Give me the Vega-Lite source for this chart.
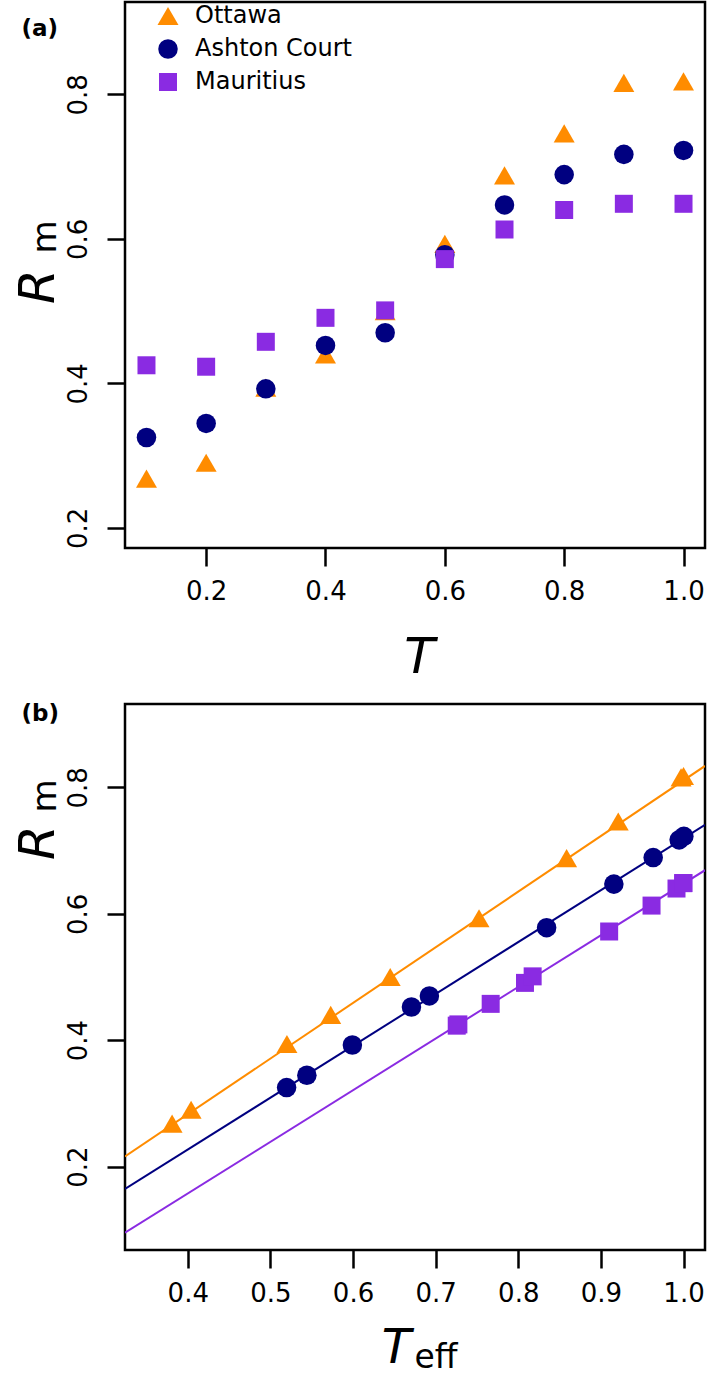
{
  "$schema": "https://vega.github.io/schema/vega-lite/v6.json",
  "background": "white",
  "padding": {"left": 11, "top": 0, "right": 3, "bottom": 3},
  "bounds": "flush",
  "spacing": 156,
  "config": {
    "font": "DejaVu Sans",
    "view": {"stroke": "black", "strokeWidth": 2.5},
    "axis": {
      "domain": false, "grid": false,
      "tickColor": "black", "tickWidth": 2.5, "tickSize": 18,
      "labelColor": "black", "labelFont": "DejaVu Sans", "labelFontSize": 26,
      "titleColor": "black", "titleFont": "DejaVu Sans", "titleFontWeight": "normal"
    }
  },
  "datasets": {
    "pts": [
      {"site": "Ottawa", "T": 0.1, "Rm": 0.268, "Teff": 0.381},
      {"site": "Ottawa", "T": 0.2, "Rm": 0.290, "Teff": 0.404},
      {"site": "Ottawa", "T": 0.3, "Rm": 0.394, "Teff": 0.520},
      {"site": "Ottawa", "T": 0.4, "Rm": 0.440, "Teff": 0.573},
      {"site": "Ottawa", "T": 0.5, "Rm": 0.500, "Teff": 0.645},
      {"site": "Ottawa", "T": 0.6, "Rm": 0.593, "Teff": 0.7525},
      {"site": "Ottawa", "T": 0.7, "Rm": 0.688, "Teff": 0.8585},
      {"site": "Ottawa", "T": 0.8, "Rm": 0.746, "Teff": 0.921},
      {"site": "Ottawa", "T": 0.9, "Rm": 0.816, "Teff": 0.997},
      {"site": "Ottawa", "T": 1.0, "Rm": 0.818, "Teff": 1.0},
      {"site": "Ashton Court", "T": 0.1, "Rm": 0.325, "Teff": 0.5196},
      {"site": "Ashton Court", "T": 0.2, "Rm": 0.3445, "Teff": 0.5441},
      {"site": "Ashton Court", "T": 0.3, "Rm": 0.3924, "Teff": 0.5992},
      {"site": "Ashton Court", "T": 0.4, "Rm": 0.4525, "Teff": 0.6707},
      {"site": "Ashton Court", "T": 0.5, "Rm": 0.470, "Teff": 0.6924},
      {"site": "Ashton Court", "T": 0.6, "Rm": 0.578, "Teff": 0.8343},
      {"site": "Ashton Court", "T": 0.7, "Rm": 0.647, "Teff": 0.9157},
      {"site": "Ashton Court", "T": 0.8, "Rm": 0.689, "Teff": 0.9633},
      {"site": "Ashton Court", "T": 0.9, "Rm": 0.717, "Teff": 0.9947},
      {"site": "Ashton Court", "T": 1.0, "Rm": 0.7225, "Teff": 1.0004},
      {"site": "Mauritius", "T": 0.1, "Rm": 0.425, "Teff": 0.7275},
      {"site": "Mauritius", "T": 0.2, "Rm": 0.423, "Teff": 0.7255},
      {"site": "Mauritius", "T": 0.3, "Rm": 0.4575, "Teff": 0.7666},
      {"site": "Mauritius", "T": 0.4, "Rm": 0.4907, "Teff": 0.8081},
      {"site": "Mauritius", "T": 0.5, "Rm": 0.501, "Teff": 0.8174},
      {"site": "Mauritius", "T": 0.6, "Rm": 0.572, "Teff": 0.910},
      {"site": "Mauritius", "T": 0.7, "Rm": 0.613, "Teff": 0.9613},
      {"site": "Mauritius", "T": 0.8, "Rm": 0.640, "Teff": 0.9915},
      {"site": "Mauritius", "T": 0.9, "Rm": 0.6486, "Teff": 0.9995},
      {"site": "Mauritius", "T": 1.0, "Rm": 0.6486, "Teff": 1.0}
    ],
    "lines": [
      {"site": "Ottawa", "Teff": 0.324, "Rm": 0.216},
      {"site": "Ottawa", "Teff": 1.026, "Rm": 0.834},
      {"site": "Ashton Court", "Teff": 0.324, "Rm": 0.1646},
      {"site": "Ashton Court", "Teff": 1.026, "Rm": 0.7408},
      {"site": "Mauritius", "Teff": 0.324, "Rm": 0.0953},
      {"site": "Mauritius", "Teff": 1.026, "Rm": 0.669}
    ]
  },
  "resolve": {
    "scale": {"color": "independent", "shape": "independent", "size": "independent"},
    "legend": {"color": "independent", "shape": "independent", "size": "independent"}
  },
  "vconcat": [
    {
      "width": 580,
      "height": 546,
      "layer": [
        {
          "data": {"name": "pts"},
          "mark": {"type": "point", "filled": true, "opacity": 1},
          "encoding": {
            "x": {"field": "T", "type": "quantitative",
              "scale": {"domain": [0.064, 1.036], "nice": false, "zero": false},
              "axis": {"values": [0.2, 0.4, 0.6, 0.8, 1.0], "format": ".1f", "labelBaseline": "alphabetic", "labelPadding": 33,
                "title": "T", "titleFontStyle": "italic", "titleFontSize": 50, "titleBaseline": "alphabetic", "titleAlign": "center", "titleY": 124, "titleX": 294}},
            "y": {"field": "Rm", "type": "quantitative",
              "scale": {"domain": [0.172, 0.928], "nice": false, "zero": false},
              "axis": {"values": [0.2, 0.4, 0.6, 0.8], "format": ".1f", "labelAngle": -90, "labelAlign": "center", "labelBaseline": "alphabetic", "labelPadding": 21,
                "title": "R", "titleFontStyle": "italic", "titleFontSize": 50, "titleAngle": -90, "titleBaseline": "alphabetic", "titleAlign": "center", "titleX": -72, "titleY": 284}},
            "shape": {"field": "site", "type": "nominal",
              "scale": {"domain": ["Ottawa", "Ashton Court", "Mauritius"], "range": ["triangle-up", "circle", "square"]},
              "legend": {"title": null, "orient": "none", "legendX": 31, "legendY": 2, "labelFontSize": 24, "labelColor": "black", "labelFont": "DejaVu Sans", "symbolSize": 210, "labelOffset": 15, "rowPadding": 9, "symbolStrokeWidth": 0}},
            "color": {"field": "site", "type": "nominal",
              "scale": {"domain": ["Ottawa", "Ashton Court", "Mauritius"], "range": ["#FF8C00", "#000080", "#8A2BE2"]},
              "legend": {"title": null, "orient": "none", "legendX": 31, "legendY": 2, "labelFontSize": 24, "labelColor": "black", "labelFont": "DejaVu Sans", "symbolSize": 210, "labelOffset": 15, "rowPadding": 9, "symbolStrokeWidth": 0}},
            "size": {"field": "site", "type": "nominal",
              "scale": {"domain": ["Ottawa", "Ashton Court", "Mauritius"], "range": [440, 324, 246]},
              "legend": null}
          }
        },
        {
          "data": {"name": "pts"},
          "mark": {"type": "point", "opacity": 0},
          "encoding": {
            "x": {"field": "T", "type": "quantitative",
              "axis": {"orient": "top", "labels": false, "ticks": false, "domain": false,
                "title": "(a)", "titleFontWeight": "bold", "titleFontSize": 23, "titleAngle": 0, "titleBaseline": "alphabetic", "titleAlign": "left", "titleX": -104, "titleY": 33}},
            "y": {"field": "Rm", "type": "quantitative",
              "axis": {"orient": "left", "labels": false, "ticks": false, "domain": false,
                "title": "m", "titleFontStyle": "normal", "titleFontSize": 34, "titleAngle": -90, "titleBaseline": "alphabetic", "titleAlign": "left", "titleX": -70, "titleY": 251}}
          }
        }
      ],
      "resolve": {"axis": {"x": "independent", "y": "independent"}}
    },
    {
      "width": 580,
      "height": 546,
      "layer": [
        {
          "data": {"name": "lines"},
          "mark": {"type": "line", "strokeWidth": 2, "clip": true},
          "encoding": {
            "x": {"field": "Teff", "type": "quantitative",
              "scale": {"domain": [0.324, 1.026], "nice": false, "zero": false},
              "axis": {"values": [0.4, 0.5, 0.6, 0.7, 0.8, 0.9, 1.0], "format": ".1f", "labelBaseline": "alphabetic", "labelPadding": 33,
                "title": "T", "titleFontStyle": "italic", "titleFontSize": 48, "titleBaseline": "alphabetic", "titleAlign": "center", "titleY": 112, "titleX": 271}},
            "y": {"field": "Rm", "type": "quantitative",
              "scale": {"domain": [0.068, 0.932], "nice": false, "zero": false},
              "axis": {"values": [0.2, 0.4, 0.6, 0.8], "format": ".1f", "labelAngle": -90, "labelAlign": "center", "labelBaseline": "alphabetic", "labelPadding": 21,
                "title": "R", "titleFontStyle": "italic", "titleFontSize": 50, "titleAngle": -90, "titleBaseline": "alphabetic", "titleAlign": "center", "titleX": -72, "titleY": 138}},
            "color": {"field": "site", "type": "nominal",
              "scale": {"domain": ["Ottawa", "Ashton Court", "Mauritius"], "range": ["#FF8C00", "#000080", "#8A2BE2"]},
              "legend": null}
          }
        },
        {
          "data": {"name": "pts"},
          "mark": {"type": "point", "filled": true, "opacity": 1},
          "encoding": {
            "x": {"field": "Teff", "type": "quantitative",
              "axis": {"orient": "bottom", "labels": false, "ticks": false, "domain": false,
                "title": "eff", "titleFontStyle": "normal", "titleFontSize": 33, "titleBaseline": "alphabetic", "titleAlign": "left", "titleY": 117, "titleX": 289}},
            "y": {"field": "Rm", "type": "quantitative",
              "axis": {"orient": "left", "labels": false, "ticks": false, "domain": false,
                "title": "m", "titleFontStyle": "normal", "titleFontSize": 34, "titleAngle": -90, "titleBaseline": "alphabetic", "titleAlign": "left", "titleX": -70, "titleY": 108}},
            "shape": {"field": "site", "type": "nominal",
              "scale": {"domain": ["Ottawa", "Ashton Court", "Mauritius"], "range": ["triangle-up", "circle", "square"]},
              "legend": null},
            "color": {"field": "site", "type": "nominal",
              "scale": {"domain": ["Ottawa", "Ashton Court", "Mauritius"], "range": ["#FF8C00", "#000080", "#8A2BE2"]},
              "legend": null},
            "size": {"field": "site", "type": "nominal",
              "scale": {"domain": ["Ottawa", "Ashton Court", "Mauritius"], "range": [440, 324, 246]},
              "legend": null}
          }
        },
        {
          "data": {"name": "pts"},
          "mark": {"type": "point", "opacity": 0},
          "encoding": {
            "x": {"field": "Teff", "type": "quantitative",
              "axis": {"orient": "top", "labels": false, "ticks": false, "domain": false,
                "title": "(b)", "titleFontWeight": "bold", "titleFontSize": 23, "titleAngle": 0, "titleBaseline": "alphabetic", "titleAlign": "left", "titleX": -104, "titleY": 16}},
            "y": {"field": "Rm", "type": "quantitative", "axis": null}
          }
        }
      ],
      "resolve": {"axis": {"x": "independent", "y": "independent"}}
    }
  ]
}
